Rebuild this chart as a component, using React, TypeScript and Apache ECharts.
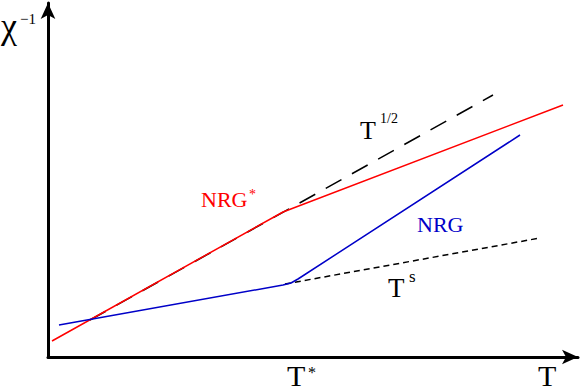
import React, { useEffect, useRef } from "react";
import * as echarts from "echarts";

// Data in plot units (x: 0..530, y: 0..354)
const redNRGStar: [number, number][] = [[4, 16], [235, 145], [515, 252]];
const blueNRG: [number, number][] = [[11, 32], [235, 72], [243, 74], [250, 78], [472, 222]];
const tHalf: [number, number][] = [[42, 37], [445, 262]];
const tS: [number, number][] = [[237, 73], [492, 119]];

const SERIF = "'Liberation Serif', 'DejaVu Serif', serif";

export default function App() {
  const ref = useRef<HTMLDivElement>(null);
  useEffect(() => {
    if (!ref.current) return;
    const chart = echarts.init(ref.current, undefined, { renderer: "svg" });
    const axisCommon = {
      type: "value" as const,
      axisTick: { show: false },
      axisLabel: { show: false },
      splitLine: { show: false },
      axisLine: {
        show: true,
        symbol: ["none", "arrow"],
        symbolSize: [11, 16],
        lineStyle: { color: "#000", width: 3 },
      },
    };
    const txt = (
      x: number,
      y: number,
      text: string,
      size: number,
      color = "#000",
      verticalAlign: "top" | "bottom" = "top"
    ) => ({
      type: "text",
      x,
      y,
      style: {
        text,
        font: `${size}px ${SERIF}`,
        fontFamily: SERIF,
        fontSize: size,
        fill: color,
        verticalAlign,
      },
    });
    chart.setOption({
      animation: false,
      grid: { left: 48, right: 3, top: 3, bottom: 34 },
      xAxis: { ...axisCommon, min: 0, max: 530 },
      yAxis: { ...axisCommon, min: 0, max: 354 },
      series: [
        {
          type: "line",
          data: tHalf,
          showSymbol: false,
          lineStyle: { color: "#000", width: 1.5, type: [18, 12] },
        },
        {
          type: "line",
          data: tS,
          showSymbol: false,
          lineStyle: { color: "#000", width: 1.5, type: [6, 4] },
        },
        {
          type: "line",
          data: redNRGStar,
          showSymbol: false,
          lineStyle: { color: "#ff0000", width: 1.5 },
        },
        {
          type: "line",
          data: blueNRG,
          showSymbol: false,
          lineStyle: { color: "#0000c8", width: 1.5 },
        },
      ],
      graphic: [
        txt(1, 8, "χ", 36),
        txt(20, 11, "−1", 15),
        txt(287, 390, "T", 30, "#000", "bottom"),
        txt(308, 364, "*", 16),
        txt(538, 390, "T", 30, "#000", "bottom"),
        txt(360, 117, "T", 26),
        txt(380, 111, "1/2", 14),
        txt(201, 188, "NRG", 22, "#ff0000"),
        txt(249, 187, "*", 14, "#ff0000"),
        txt(417, 213, "NRG", 22, "#0000c8"),
        txt(388, 274, "T", 27),
        txt(409, 268, "s", 17),
      ],
    });
    return () => chart.dispose();
  }, []);
  return <div ref={ref} style={{ width: 581, height: 391, position: "absolute", left: 0, top: 0 }} />;
}
